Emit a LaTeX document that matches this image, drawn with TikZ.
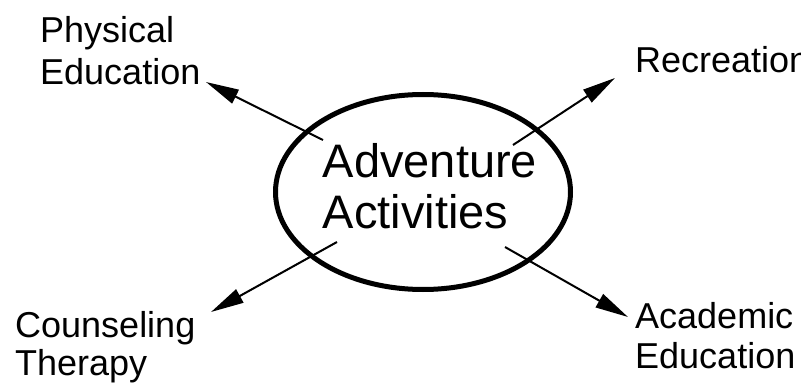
\documentclass[tikz,border=0pt]{standalone}
\usepackage{fontspec}
\setmainfont{Liberation Sans}
\usetikzlibrary{arrows.meta, shapes.geometric}

\begin{document}
\begin{tikzpicture}[
    x=1pt, y=-1pt,
    field/.style ={anchor=base west, inner sep=0pt, align=left, font=\fontsize{36}{40}\selectfont},
    hub/.style   ={ellipse, draw, line width=5pt, inner sep=0pt, minimum width=295pt, minimum height=195pt},
    hubtext/.style={align=left, inner sep=0pt, font=\fontsize{47}{51}\selectfont},
    arrow/.style ={-{Triangle[length=33pt, width=15pt]}, line width=2pt}
]
\useasboundingbox (0,0) rectangle (801,385);
\node[hub] (adv) at (423,192) {};
\node[hubtext, xshift=7pt, yshift=6pt] (advtext) at (adv.center) {Adventure\\Activities};
\node[field, font=\fontsize{36}{42}\selectfont] (pe) at (40,85) {Physical\\Education};
\node[field] (rec) at (635,73) {Recreation};
\node[field, font=\fontsize{36}{38}\selectfont] (ct) at (15,375) {Counseling\\Therapy};
\node[field] (ae) at (635,368) {Academic\\Education};
% arrow ends
\coordinate (pe-tail) at (323,140);
\coordinate (pe-tip) at (206,82);
\coordinate (rec-tail) at (513,145);
\coordinate (rec-tip) at (615,78);
\coordinate (ct-tail) at (337,242);
\coordinate (ct-tip) at (211,312);
\coordinate (ae-tail) at (505,247);
\coordinate (ae-tip) at (628,317);
\draw[arrow] (pe-tail) -- (pe-tip);
\draw[arrow] (rec-tail) -- (rec-tip);
\draw[arrow] (ct-tail) -- (ct-tip);
\draw[arrow] (ae-tail) -- (ae-tip);
\end{tikzpicture}
\end{document}
